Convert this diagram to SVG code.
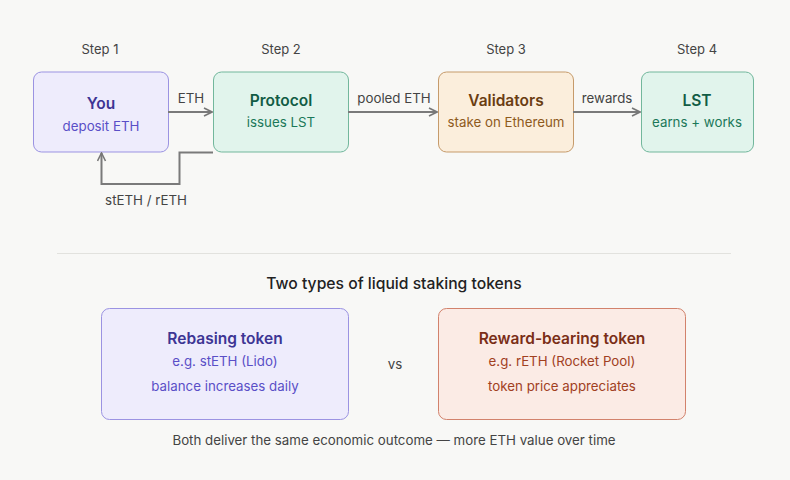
<svg xmlns="http://www.w3.org/2000/svg" width="790" height="480" viewBox="0 0 790 480">
<defs>
<marker id="ah" viewBox="0 0 10 10" refX="9" refY="5" markerWidth="10" markerHeight="10" markerUnits="userSpaceOnUse" orient="auto">
<path d="M1,1 L9,5 L1,9" fill="none" stroke="#777" stroke-width="1.6"/>
</marker>
<style>
text{font-family:Inter,"Noto Sans","Liberation Sans",sans-serif;text-anchor:middle}
.step{font-size:13px;fill:#444}
.t{font-size:15.5px;font-weight:600}
.s{font-size:13.3px}
.lbl{font-size:13.3px;fill:#444}
.c{fill:none;stroke:#7a7a7a;stroke-width:2}
</style>
</defs>
<rect width="790" height="480" fill="#f8f8f6"/>
<text class="step" x="100" y="54">Step 1</text>
<text class="step" x="281" y="54">Step 2</text>
<text class="step" x="506" y="54">Step 3</text>
<text class="step" x="697" y="54">Step 4</text>
<g id="you">
<rect x="33.5" y="72" width="135" height="80" rx="8" fill="#eeecfc" stroke="#9b93e2"/>
<text class="t" x="101" y="109" fill="#3d3594">You</text>
<text class="s" x="101" y="131" fill="#5a4fc7">deposit ETH</text>
</g>
<g id="protocol">
<rect x="213.5" y="72" width="135" height="80" rx="8" fill="#e1f4ec" stroke="#72b79c"/>
<text class="t" x="281" y="106" fill="#125c45">Protocol</text>
<text class="s" x="281" y="127" fill="#1b7859">issues LST</text>
</g>
<g id="validators">
<rect x="438.5" y="72" width="135" height="80" rx="8" fill="#fbeedc" stroke="#c69b6b"/>
<text class="t" x="506" y="106" fill="#6a3d12">Validators</text>
<text class="s" x="506" y="127" fill="#8e5a1d">stake on Ethereum</text>
</g>
<g id="lst">
<rect x="641.5" y="72" width="112" height="80" rx="8" fill="#e1f4ec" stroke="#72b79c"/>
<text class="t" x="697" y="106" fill="#125c45">LST</text>
<text class="s" x="697" y="127" fill="#1b7859">earns + works</text>
</g>
<g id="connectors">
<path class="c" d="M168,112 H212" marker-end="url(#ah)"/>
<path class="c" d="M348,112 H437" marker-end="url(#ah)"/>
<path class="c" d="M573,112 H640" marker-end="url(#ah)"/>
<path class="c" d="M213,152.5 H179.5 V184 H101.5 V153" marker-end="url(#ah)"/>
<text class="lbl" x="191" y="103">ETH</text>
<text class="lbl" x="394" y="103">pooled ETH</text>
<text class="lbl" x="607" y="103">rewards</text>
<text class="lbl" x="146" y="205">stETH / rETH</text>
</g>
<line x1="57" y1="253.5" x2="731" y2="253.5" stroke="#e2e2de" stroke-width="1"/>
<text x="394" y="289" font-size="15.7" font-weight="500" fill="#222">Two types of liquid staking tokens</text>
<g id="rebasing">
<rect x="101.5" y="308.5" width="247" height="111" rx="8" fill="#eeecfc" stroke="#9b93e2"/>
<text class="t" x="225" y="344" fill="#3d3594">Rebasing token</text>
<text class="s" x="225" y="366" fill="#5a4fc7">e.g. stETH (Lido)</text>
<text class="s" x="225" y="391" fill="#5a4fc7">balance increases daily</text>
</g>
<text class="s" x="395" y="369" fill="#444">vs</text>
<g id="reward-bearing">
<rect x="438.5" y="308.5" width="247" height="111" rx="8" fill="#fbebe5" stroke="#d2826c"/>
<text class="t" x="562" y="344" fill="#7a2e17">Reward-bearing token</text>
<text class="s" x="562" y="366" fill="#a1401f">e.g. rETH (Rocket Pool)</text>
<text class="s" x="562" y="391" fill="#a1401f">token price appreciates</text>
</g>
<text class="s" x="394" y="445" fill="#444">Both deliver the same economic outcome — more ETH value over time</text>
</svg>
